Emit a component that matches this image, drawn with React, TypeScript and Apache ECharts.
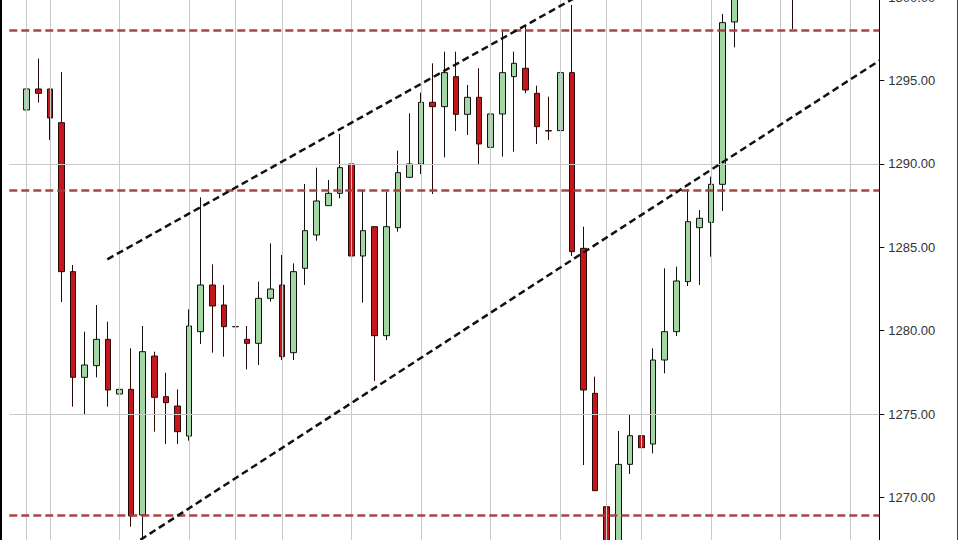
import React, { useEffect, useRef } from "react";
import * as echarts from "echarts";

// Bars (hourly-style sessions); one leading empty slot, trailing empty slots to the price axis
const leadPad = 1;
const totalSlots = 75;
const slotLabels: string[] = Array.from({ length: totalSlots }, (_, i) => `B${i}`);

// [open, close, low, high] per bar
const candleOHLC: (number[] | null)[] = [
  [1293.24, 1294.5, 1292.46, 1295.04],
  [1294.5, 1294.24, 1293.68, 1296.32],
  [1294.5, 1292.76, 1291.44, 1294.5],
  [1292.48, 1283.54, 1281.72, 1295.52],
  [1283.54, 1277.2, 1275.44, 1283.94],
  [1277.2, 1277.94, 1274.98, 1279.94],
  [1277.9, 1279.48, 1277.2, 1281.54],
  [1279.48, 1276.44, 1275.44, 1280.54],
  [1276.2, 1276.48, 1275.24, 1279.94],
  [1276.48, 1268.88, 1268.24, 1278.94],
  [1268.94, 1278.74, 1267.2, 1280.28],
  [1278.48, 1276.0, 1273.94, 1278.74],
  [1276.04, 1275.68, 1273.2, 1277.48],
  [1275.48, 1273.94, 1273.2, 1276.48],
  [1273.68, 1280.28, 1273.4, 1281.28],
  [1279.94, 1282.74, 1279.2, 1288.0],
  [1282.74, 1281.48, 1278.68, 1283.98],
  [1281.54, 1280.24, 1278.44, 1282.74],
  [1280.24, 1280.24, 1280.24, 1280.24],
  [1279.48, 1279.24, 1277.68, 1280.28],
  [1279.24, 1281.94, 1277.94, 1282.94],
  [1281.94, 1282.5, 1281.74, 1285.24],
  [1282.74, 1278.44, 1278.24, 1284.54],
  [1278.68, 1283.54, 1278.24, 1284.04],
  [1283.74, 1286.0, 1282.74, 1288.8],
  [1285.74, 1287.78, 1285.4, 1289.78],
  [1287.5, 1288.24, 1287.5, 1289.04],
  [1288.24, 1289.78, 1287.94, 1291.8],
  [1290.0, 1284.48, 1282.44, 1290.18],
  [1284.48, 1286.0, 1281.68, 1288.44],
  [1286.24, 1279.7, 1276.98, 1286.24],
  [1279.7, 1286.24, 1279.44, 1288.34],
  [1286.18, 1289.48, 1285.94, 1290.8],
  [1289.2, 1290.0, 1289.2, 1293.04],
  [1290.0, 1293.7, 1289.4, 1294.28],
  [1293.7, 1293.44, 1288.2, 1296.04],
  [1293.44, 1295.48, 1290.4, 1296.74],
  [1295.24, 1292.98, 1291.98, 1296.74],
  [1292.98, 1294.0, 1291.74, 1294.74],
  [1294.0, 1291.2, 1289.98, 1295.74],
  [1291.0, 1293.0, 1289.14, 1295.04],
  [1293.0, 1295.48, 1290.44, 1298.0],
  [1295.24, 1296.04, 1290.74, 1296.74],
  [1295.74, 1294.44, 1294.24, 1298.28],
  [1294.24, 1292.24, 1291.2, 1294.7],
  [1292.0, 1291.98, 1291.44, 1294.04],
  [1292.0, 1295.48, 1290.2, 1296.08],
  [1295.48, 1284.74, 1284.48, 1299.54],
  [1284.94, 1276.44, 1271.94, 1286.24],
  [1276.24, 1270.4, 1270.4, 1277.24],
  [1269.44, 1266.5, 1266.0, 1271.24],
  [1266.8, 1271.98, 1266.2, 1273.98],
  [1271.98, 1273.7, 1271.4, 1275.0],
  [1273.7, 1272.98, 1266.5, 1275.24],
  [1273.2, 1278.24, 1272.64, 1278.94],
  [1278.24, 1279.94, 1277.44, 1283.74],
  [1279.94, 1282.98, 1279.68, 1283.84],
  [1282.94, 1286.54, 1282.68, 1288.48],
  [1286.18, 1286.74, 1282.74, 1287.24],
  [1286.5, 1288.78, 1284.44, 1289.24],
  [1288.78, 1298.48, 1287.18, 1299.0],
  [1298.52, 1300.6, 1297.0, 1301.2],
  null,
  null,
  null,
  null,
  [1302.0, 1301.5, 1298.1, 1302.5],
];

// Session-start bars carrying a vertical grid line
const sessionStartBars = [0, 2, 8, 14, 18, 22, 28, 34, 40, 46, 50, 53, 59, 65, 71];
// Horizontal grid levels
const gridLevels = [1275, 1290];
// Support / resistance levels (red dashed)
const srLevels = [1298.05, 1288.4, 1268.9];
// Channel lines: [bar position, price]
const upperChannel = [
  [6.95, 1284.28],
  [49, 1300.65],
];
const lowerChannel = [
  [9.8, 1267.45],
  [73.5, 1296.2],
];

const yMin = 1265;
const yMax = 1300;
const yStep = 5;

// the chart canvas is taller than the window and shifted up, so the price range is cropped like the picture
const shiftUp = 30;
const canvasH = 640;

export default function App() {
  const ref = useRef<HTMLDivElement>(null);
  useEffect(() => {
    if (!ref.current) return;
    const chart = echarts.init(ref.current, undefined, { renderer: "svg" });
    const candleData = [
      ...Array.from({ length: leadPad }, () => ["-", "-", "-", "-"]),
      ...candleOHLC.map((c) => (c ? c : ["-", "-", "-", "-"])),
    ];
    const gridTop = shiftUp - 2.7;
    const gridBottom = canvasH - (shiftUp + 580.7);
    chart.setOption({
      animation: false,
      backgroundColor: "#ffffff",
      grid: { left: 9.3, right: 80.7, top: gridTop, bottom: gridBottom, containLabel: false },
      xAxis: [
        { type: "category", data: slotLabels, boundaryGap: true, show: false },
        { type: "value", min: -0.5, max: totalSlots - 0.5, show: false },
      ],
      yAxis: {
        type: "value",
        position: "right",
        min: yMin,
        max: yMax,
        interval: yStep,
        axisLine: { show: true, onZero: false, lineStyle: { color: "#000", width: 1 } },
        axisTick: { show: true, inside: false, length: 5, lineStyle: { color: "#000" } },
        splitLine: { show: false },
        axisLabel: {
          margin: 9,
          color: "#333",
          fontSize: 13,
          fontFamily: "Liberation Sans, Arial, sans-serif",
          showMinLabel: false,
          formatter: (v: number) => v.toFixed(2),
        },
      },
      series: [
        {
          type: "line",
          xAxisIndex: 1,
          data: [],
          z: 1,
          markLine: {
            silent: true,
            symbol: ["none", "none"],
            label: { show: false },
            lineStyle: { color: "#c9c9c9", width: 1, type: "solid" },
            data: [
              ...sessionStartBars.map((b) => ({ xAxis: b + leadPad })),
              ...gridLevels.map((v) => ({ yAxis: v })),
            ],
          },
        },
        {
          type: "candlestick",
          data: candleData,
          barWidth: 6,
          z: 3,
          itemStyle: {
            color: "#a2d6a2",
            color0: "#c4161c",
            borderColor: "#111",
            borderColor0: "#2a0808",
            borderWidth: 1,
          },
        },
        {
          type: "line",
          xAxisIndex: 1,
          data: [],
          z: 4,
          markLine: {
            silent: true,
            symbol: ["none", "none"],
            label: { show: false },
            lineStyle: { color: "#a63a3c", width: 2.5, type: [8, 4], opacity: 0.95 },
            data: srLevels.map((v) => ({ yAxis: v })),
          },
        },
        {
          type: "line",
          xAxisIndex: 1,
          data: upperChannel.map(([b, p]) => [b + leadPad, p]),
          showSymbol: false,
          z: 5,
          lineStyle: { color: "#111", width: 2.5, type: [7, 4] },
        },
        {
          type: "line",
          xAxisIndex: 1,
          data: lowerChannel.map(([b, p]) => [b + leadPad, p]),
          showSymbol: false,
          z: 5,
          lineStyle: { color: "#111", width: 2.5, type: [7, 4] },
        },
      ],
      graphic: [
        { type: "line", shape: { x1: 1, y1: 0, x2: 1, y2: canvasH }, style: { stroke: "#000", lineWidth: 2 } },
        { type: "line", shape: { x1: 957.5, y1: 0, x2: 957.5, y2: canvasH }, style: { stroke: "#444", lineWidth: 1 } },
      ],
    });
    return () => chart.dispose();
  }, []);
  return (
    <div
      ref={ref}
      style={{ position: "fixed", left: 0, top: -shiftUp, width: 960, height: canvasH, background: "#fff" }}
    />
  );
}
